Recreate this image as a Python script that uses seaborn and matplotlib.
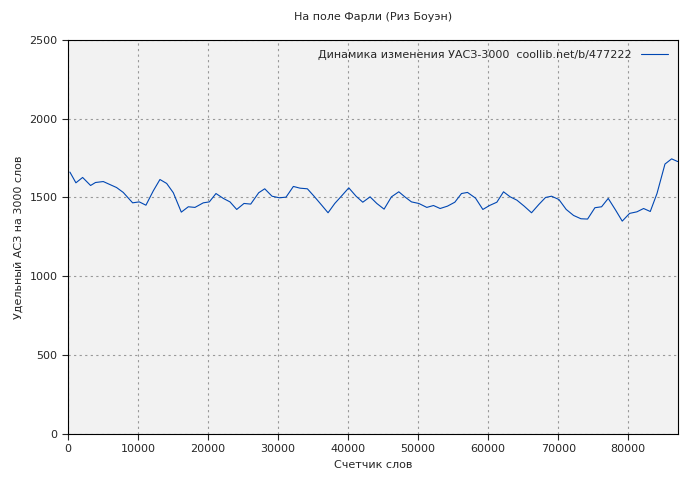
import matplotlib
matplotlib.use("Agg")
import matplotlib.pyplot as plt
import seaborn as sns
import pandas as pd

words = [286,1143,2100,3240,3940,5050,6000,6950,7900,9240,10190,11140,12190,13140,14100,15050,16190,17190,18140,19330,20190,21140,22190,23140,24100,25140,26100,27240,28100,29140,30190,31140,32190,33140,34190,35140,36100,37140,38100,39140,40100,41140,42100,43140,44100,45140,46190,47240,48100,49050,50100,51240,52190,53140,54190,55240,56190,57050,58190,59240,60190,61240,62190,63140,64100,65140,66190,67240,68190,69050,70100,71140,72190,73240,74190,75240,76190,77140,78190,79140,80190,81240,82190,83140,84100,85240,86190,87050]
values = [1661,1593,1627,1576,1595,1601,1582,1563,1532,1466,1472,1451,1542,1614,1589,1530,1407,1441,1437,1466,1472,1525,1494,1472,1424,1462,1458,1530,1555,1508,1498,1502,1570,1559,1555,1508,1458,1403,1462,1513,1561,1508,1470,1504,1462,1426,1504,1536,1504,1472,1462,1437,1449,1430,1445,1470,1525,1532,1496,1424,1449,1470,1536,1504,1483,1445,1403,1456,1500,1508,1487,1424,1386,1365,1363,1435,1441,1494,1420,1350,1399,1409,1430,1411,1525,1712,1745,1728]
label = "Динамика изменения УАСЗ-3000  coollib.net/b/477222"

df = pd.DataFrame({"x": words, "y": values})
sns.set_style("white")
plt.rcParams["font.family"] = ["DejaVu Sans"]
fig, ax = plt.subplots(figsize=(7, 4.8), dpi=100)
fig.subplots_adjust(left=0.097, right=0.969, bottom=0.096, top=0.917)
ax.set_facecolor("#f2f2f2")
sns.lineplot(data=df, x="x", y="y", ax=ax, color="#0047b3", linewidth=0.8, label=label)
ax.set_xlim(0, 87143)
ax.set_ylim(0, 2500)
ax.set_xticks(range(0, 87000, 10000))
ax.set_yticks(range(0, 2501, 500))
ax.grid(True, color="#999999", linestyle=(0, (2, 3)), linewidth=0.8)
for s in ax.spines.values():
    s.set_color("black")
ax.tick_params(labelsize=8, length=4, direction="out", left=True, bottom=True)
ax.set_xlabel("Счетчик слов", fontsize=8)
ax.set_ylabel("Удельный АСЗ на 3000 слов", fontsize=8)
ax.set_title("На поле Фарли (Риз Боуэн)", fontsize=8, pad=14)
leg = ax.legend(loc="upper right", fontsize=8, frameon=False, markerfirst=False, handlelength=2.5)
fig.savefig("out.png")
